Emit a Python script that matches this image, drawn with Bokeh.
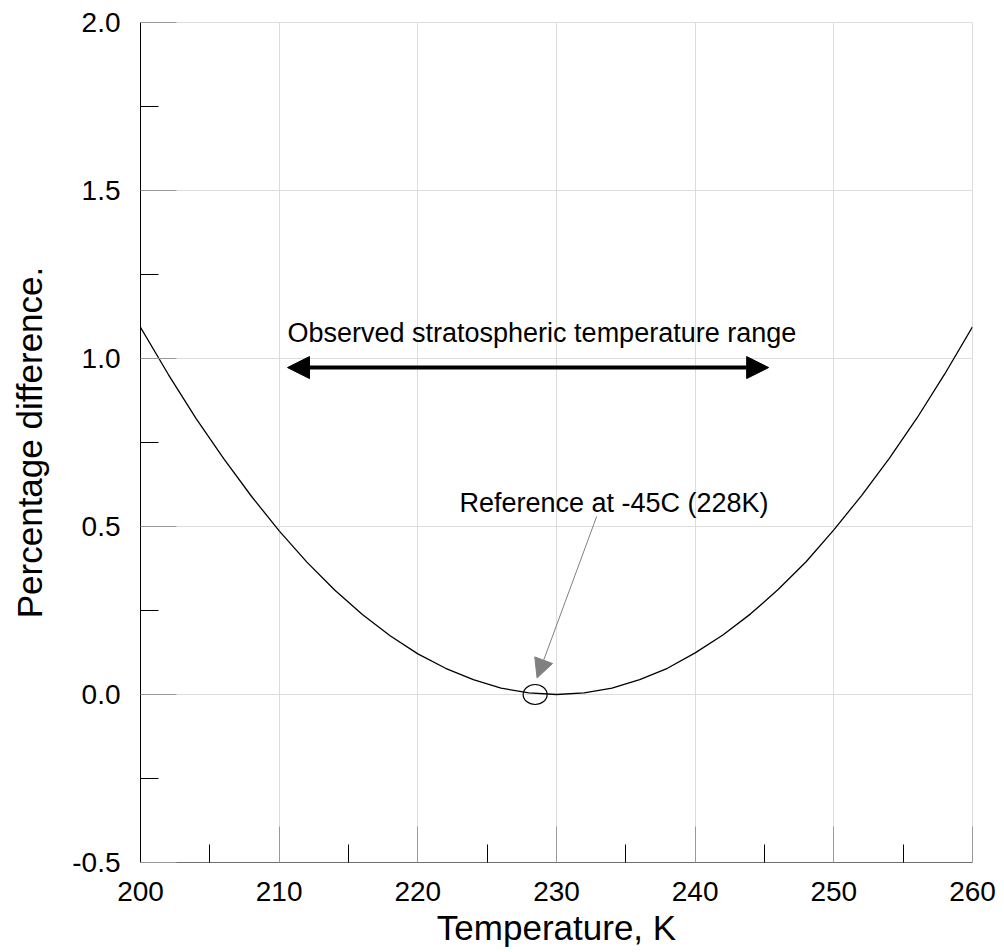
from bokeh.plotting import figure
from bokeh.models import (FixedTicker, NumeralTickFormatter, Arrow, NormalHead,
                          Range1d, Label)
from bokeh.embed import file_html
from bokeh.resources import INLINE

# ---- data ----
temperature_k = [200, 202, 204, 206, 208, 210, 212, 214, 216, 218, 220, 222, 224,
                 226, 228, 230, 232, 234, 236, 238, 240, 242, 244, 246, 248, 250,
                 252, 254, 256, 258, 260]
pct_difference = [1.093, 0.953, 0.822, 0.702, 0.590, 0.487, 0.394, 0.311, 0.238,
                  0.175, 0.121, 0.078, 0.044, 0.019, 0.005, 0.000, 0.005, 0.019,
                  0.044, 0.078, 0.124, 0.177, 0.240, 0.313, 0.395, 0.490, 0.592,
                  0.703, 0.823, 0.954, 1.094]

x_ticks = [200, 210, 220, 230, 240, 250, 260]
x_minor_ticks = [205, 215, 225, 235, 245, 255]
y_ticks = [-0.5, 0.0, 0.5, 1.0, 1.5, 2.0]
y_minor_ticks = [-0.25, 0.25, 0.75, 1.25, 1.75]

reference_t = [228.46]
reference_v = [0.0]

range_lo, range_hi, range_y = 210.6, 245.3, 0.973
range_text = "Observed stratospheric temperature range"
range_text_x, range_text_y = 210.6, 1.0745

ref_text = "Reference at -45C (228K)"
ref_text_x, ref_text_y = 223.0, 0.571
ref_arrow_start = (232.9, 0.530)
ref_arrow_end = (228.6, 0.049)

FONT = "Liberation Sans"

p = figure(width=1004, height=952, output_backend="svg", toolbar_location=None,
           x_range=Range1d(200, 260), y_range=Range1d(-0.5, 2.0),
           min_border_left=140, min_border_right=32, min_border_top=22,
           min_border_bottom=90)
p.background_fill_color = "white"
p.border_fill_color = "white"
p.outline_line_color = "#dcdcdc"
p.outline_line_width = 1

# grids
p.xgrid.ticker = FixedTicker(ticks=x_ticks)
p.ygrid.ticker = FixedTicker(ticks=y_ticks)
for g in (p.xgrid, p.ygrid):
    g.grid_line_color = "#dcdcdc"
    g.grid_line_width = 1

# axes
p.xaxis.ticker = FixedTicker(ticks=x_ticks, minor_ticks=x_minor_ticks)
p.yaxis.ticker = FixedTicker(ticks=y_ticks, minor_ticks=y_minor_ticks)
p.yaxis.formatter = NumeralTickFormatter(format="0.0")
p.xaxis.axis_label = "Temperature, K"
p.yaxis.axis_label = "Percentage difference."
for ax in (p.xaxis, p.yaxis):
    ax.major_tick_in = 36
    ax.major_tick_out = 0
    ax.minor_tick_in = 18
    ax.minor_tick_out = 0
    ax.major_tick_line_color = "#999999"
    ax.minor_tick_line_color = "black"
    ax.major_label_text_font = FONT
    ax.major_label_text_font_size = "28px"
    ax.major_label_text_color = "black"
    ax.major_label_standoff = 20
    ax.axis_label_text_font = FONT
    ax.axis_label_text_font_size = "35px"
    ax.axis_label_text_font_style = "normal"
    ax.axis_label_text_color = "black"
p.xaxis.axis_line_color = "#707070"
p.yaxis.axis_line_color = "black"
p.xaxis.major_label_standoff = 19
p.xaxis.axis_label_standoff = 4
p.yaxis.axis_label_standoff = 20

# curve
p.line(temperature_k, pct_difference, line_color="black", line_width=1.3)

# reference marker
p.ellipse(reference_t, reference_v, width=24, height=20, width_units="screen",
          height_units="screen", fill_color=None, line_color="black", line_width=1.2)

# double arrow for observed range
p.add_layout(Arrow(start=NormalHead(size=22, fill_color="black", line_color="black"),
                   end=NormalHead(size=22, fill_color="black", line_color="black"),
                   x_start=range_hi, y_start=range_y, x_end=range_lo, y_end=range_y,
                   line_width=4, line_color="black"))
p.add_layout(Label(x=range_text_x, y=range_text_y, text=range_text,
                   text_font=FONT, text_font_size="27px", text_color="black",
                   text_baseline="middle"))

# reference annotation
p.add_layout(Arrow(end=NormalHead(size=19, fill_color="#808080", line_color="#808080"),
                   x_start=ref_arrow_start[0], y_start=ref_arrow_start[1],
                   x_end=ref_arrow_end[0], y_end=ref_arrow_end[1],
                   line_width=1, line_color="#808080"))
p.add_layout(Label(x=ref_text_x, y=ref_text_y, text=ref_text,
                   text_font=FONT, text_font_size="27px", text_color="black",
                   text_baseline="middle"))

open("out.html", "w").write(file_html(p, INLINE))
